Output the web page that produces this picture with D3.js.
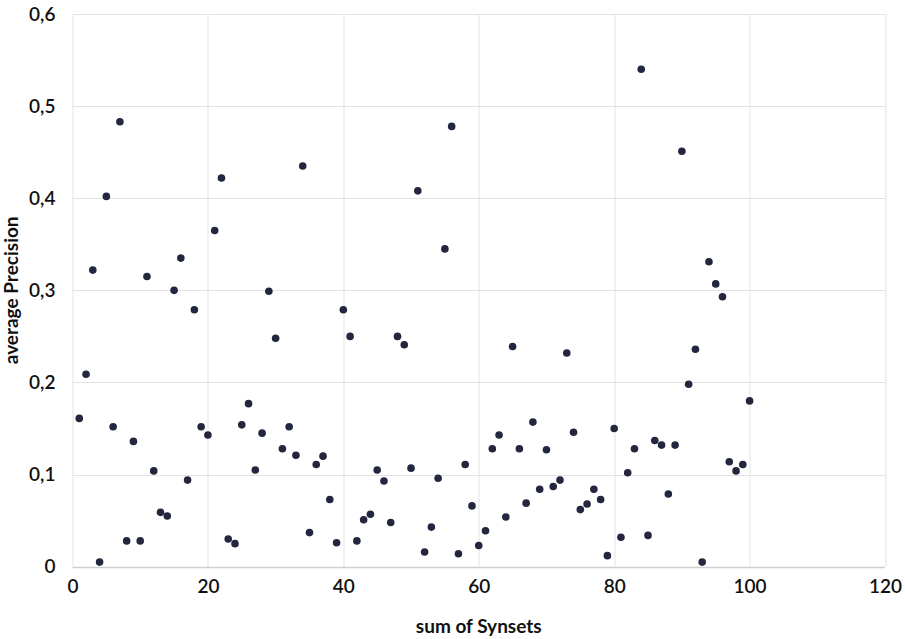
<!DOCTYPE html>
<html>
<head>
<meta charset="utf-8">
<script src="https://cdn.jsdelivr.net/npm/d3@7/dist/d3.min.js"></script>
<style>
  html, body { margin: 0; padding: 0; background: #ffffff; }
  svg { display: block; }
  .tick text { font-family: Lato, "Open Sans", sans-serif; font-size: 19px; font-weight: 600; fill: #111; }
  .title { font-family: Lato, "Open Sans", sans-serif; font-size: 19px; font-weight: 700; fill: #111; }
</style>
</head>
<body>
<svg id="chart" width="905" height="639"></svg>
<script>
// Number of synsets (x) per query and its average precision (y)
const synsets = [
  1, 2, 3, 4, 5, 6, 7, 8, 9, 10,
  11, 12, 13, 14, 15, 16, 17, 18, 19, 20,
  21, 22, 23, 24, 25, 26, 27, 28, 29, 30,
  31, 32, 33, 34, 35, 36, 37, 38, 39, 40,
  41, 42, 43, 44, 45, 46, 47, 48, 49, 50,
  51, 52, 53, 54, 55, 56, 57, 58, 59, 60,
  61, 62, 63, 64, 65, 66, 67, 68, 69, 70,
  71, 72, 73, 74, 75, 76, 77, 78, 79, 80,
  81, 82, 83, 84, 85, 86, 87, 88, 89, 90,
  91, 92, 93, 94, 95, 96, 97, 98, 99, 100
];
const precision = [
  0.161, 0.209, 0.322, 0.005, 0.402, 0.152, 0.483, 0.028, 0.136, 0.028,
  0.315, 0.104, 0.059, 0.055, 0.300, 0.335, 0.094, 0.279, 0.152, 0.143,
  0.365, 0.422, 0.030, 0.025, 0.154, 0.177, 0.105, 0.145, 0.299, 0.248,
  0.128, 0.152, 0.121, 0.435, 0.037, 0.111, 0.120, 0.073, 0.026, 0.279,
  0.250, 0.028, 0.051, 0.057, 0.105, 0.093, 0.048, 0.250, 0.241, 0.107,
  0.408, 0.016, 0.043, 0.096, 0.345, 0.478, 0.014, 0.111, 0.066, 0.023,
  0.039, 0.128, 0.143, 0.054, 0.239, 0.128, 0.069, 0.157, 0.084, 0.127,
  0.087, 0.094, 0.232, 0.146, 0.062, 0.068, 0.084, 0.073, 0.012, 0.150,
  0.032, 0.102, 0.128, 0.540, 0.034, 0.137, 0.132, 0.079, 0.132, 0.451,
  0.198, 0.236, 0.005, 0.331, 0.307, 0.293, 0.114, 0.104, 0.111, 0.180
];
const xTicks = [0, 20, 40, 60, 80, 100, 120];
const yTicks = [0, 0.1, 0.2, 0.3, 0.4, 0.5, 0.6];

const points = synsets.map((s, i) => ({ x: s, y: precision[i] }));

const margin = { top: 14, left: 72.5 };
const svg = d3.select("#chart");

const x = d3.scaleLinear().domain([0, 120]).range([0, 812.5]);
const y = d3.scaleLinear().domain([0, 0.6]).range([552.7, 0]);

const g = svg.append("g").attr("transform", `translate(${margin.left},${margin.top})`);

// Grid lines
g.append("g").selectAll("line").data(yTicks).join("line")
  .attr("x1", 0).attr("x2", x(120))
  .attr("y1", d => Math.round(y(d)) + 0.5).attr("y2", d => Math.round(y(d)) + 0.5)
  .attr("stroke", d => d === 0 ? "#cfcfcf" : "#e3e3e3").attr("stroke-width", d => d === 0 ? 1.5 : 1);
g.append("g").selectAll("line").data(xTicks).join("line")
  .attr("x1", d => Math.round(x(d)) + 0.5).attr("x2", d => Math.round(x(d)) + 0.5)
  .attr("y1", 0).attr("y2", y(0))
  .attr("stroke", "#e3e3e3").attr("stroke-width", 1);

// Axes (labels only)
const fmt = d => d === 0 ? "0" : d3.format(".1f")(d).replace(".", ",");
const xAxis = g.append("g").attr("transform", `translate(0,${y(0)})`)
  .call(d3.axisBottom(x).tickValues(xTicks).tickSize(0).tickPadding(13).tickFormat(d3.format("d")));
const yAxis = g.append("g")
  .call(d3.axisLeft(y).tickValues(yTicks).tickSize(0).tickPadding(17).tickFormat(fmt));
xAxis.select(".domain").remove();
yAxis.select(".domain").remove();

// Points
g.append("g").selectAll("circle").data(points).join("circle")
  .attr("cx", d => x(d.x)).attr("cy", d => y(d.y)).attr("r", 3.8)
  .attr("fill", "#23263f");

// Axis titles
svg.append("text").attr("class", "title")
  .attr("x", margin.left + x(60)).attr("y", 633)
  .attr("text-anchor", "middle").text("sum of Synsets");
svg.append("text").attr("class", "title")
  .attr("transform", `translate(18,${margin.top + y(0.3)}) rotate(-90)`)
  .attr("text-anchor", "middle").text("average Precision");
</script>
</body>
</html>
